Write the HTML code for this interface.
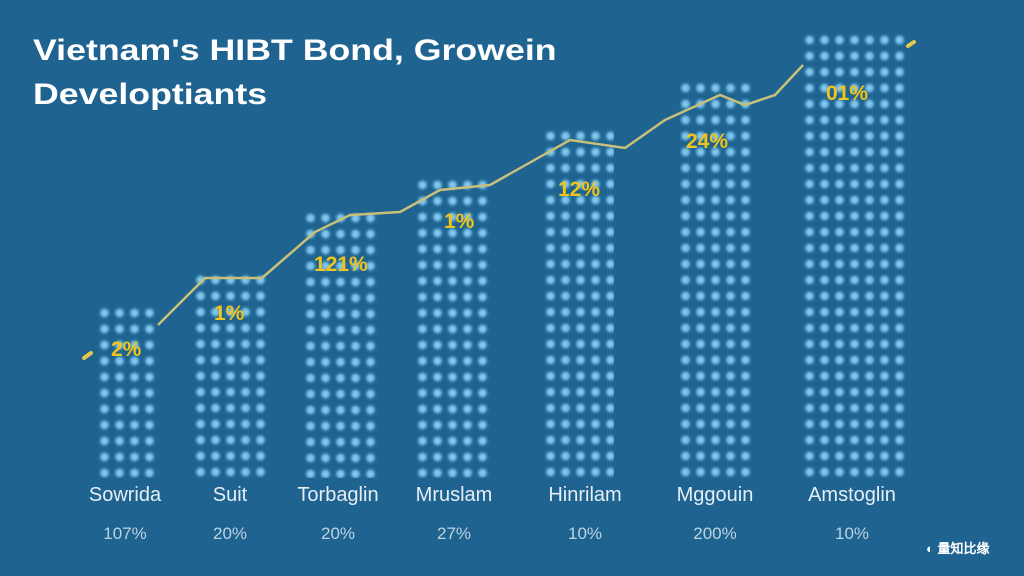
<!DOCTYPE html><html><head><style>
body{margin:0;width:1024px;height:576px;overflow:hidden;background:#1f6390;font-family:"Liberation Sans",sans-serif;position:relative}
.t{position:absolute;left:33px;color:#fff;font-weight:bold;font-size:30px;line-height:44px;top:29px;transform:scaleX(1.19);transform-origin:0 0;white-space:nowrap}
.b{position:absolute;bottom:98px;background-image:radial-gradient(circle,#8fd0ef 0,#6bb6dd 3px,rgba(80,160,210,.35) 5px,transparent 7px);background-size:15px 16px;background-position:0 0}
.l{position:absolute;top:484px;color:#e6eef4;font-size:20px;width:140px;text-align:center}
.v{position:absolute;top:524px;color:#bcd3e2;font-size:17px;width:140px;text-align:center}
.p{position:absolute;color:#f2c318;font-weight:bold;font-size:21px}
</style></head><body>
<div class="t">Vietnam's HIBT Bond, Growein<br>Developtiants</div>
<div class="b" style="left:97px;width:62px;height:173px"></div>
<div class="b" style="left:193px;width:74px;height:206px"></div>
<div class="b" style="left:303px;width:74px;height:268px"></div>
<div class="b" style="left:415px;width:76px;height:301px"></div>
<div class="b" style="left:543px;width:71px;height:350px"></div>
<div class="b" style="left:678px;width:74px;height:398px"></div>
<div class="b" style="left:802px;width:104px;height:446px"></div>
<svg style="position:absolute;left:0;top:0" width="1024" height="576"><polyline fill="none" stroke="#c9c07a" stroke-width="2.5" points="158,325 205,278 262,278 315,232 350,215 400,212 440,190 490,185 570,140 625,148 665,120 720,95 745,105 775,95 803,65"/><line x1="84" y1="358" x2="91" y2="353" stroke="#e6c84a" stroke-width="4" stroke-linecap="round"/><line x1="908" y1="46" x2="914" y2="42" stroke="#e6c84a" stroke-width="4" stroke-linecap="round"/></svg>
<div class="p" style="left:111px;top:338px">2%</div>
<div class="p" style="left:214px;top:302px">1%</div>
<div class="p" style="left:314px;top:253px">121%</div>
<div class="p" style="left:444px;top:210px">1%</div>
<div class="p" style="left:558px;top:178px">12%</div>
<div class="p" style="left:686px;top:130px">24%</div>
<div class="p" style="left:826px;top:82px">01%</div>
<div class="l" style="left:55px">Sowrida</div><div class="v" style="left:55px">107%</div>
<div class="l" style="left:160px">Suit</div><div class="v" style="left:160px">20%</div>
<div class="l" style="left:268px">Torbaglin</div><div class="v" style="left:268px">20%</div>
<div class="l" style="left:384px">Mruslam</div><div class="v" style="left:384px">27%</div>
<div class="l" style="left:515px">Hinrilam</div><div class="v" style="left:515px">10%</div>
<div class="l" style="left:645px">Mggouin</div><div class="v" style="left:645px">200%</div>
<div class="l" style="left:782px">Amstoglin</div><div class="v" style="left:782px">10%</div>
<div style="position:absolute;left:926px;top:538px;color:#fff;font-size:13px;font-weight:bold">◐ 量知比缘</div>
</body></html>
